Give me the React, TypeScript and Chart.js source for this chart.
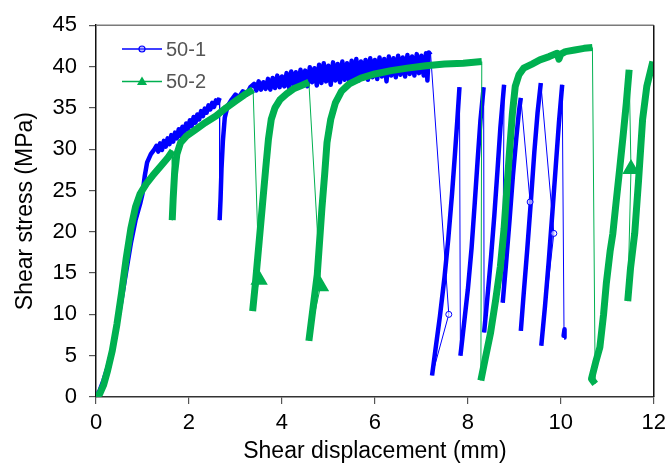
import React, { useEffect, useRef } from "react";
import { Chart, registerables } from "chart.js";

Chart.register(...registerables);

// ---- Data ----
const xTicks = [0, 2, 4, 6, 8, 10, 12];
const yTicks = [0, 5, 10, 15, 20, 25, 30, 35, 40, 45];

const seriesNames = ["50-1", "50-2"];

// 50-1 : shear displacement (mm)
const disp501 = [
  0.0, 0.08, 0.16, 0.25, 0.35, 0.45, 0.55, 0.65, 0.75, 0.85, 0.95, 1.0, 1.05, 1.1, 1.18, 1.26,
  1.3, 1.34, 1.38, 1.42, 1.46, 1.5, 1.54, 1.58, 1.62, 1.66, 1.7, 1.74, 1.78, 1.82, 1.86, 1.9,
  1.94, 1.98, 2.02, 2.06, 2.1, 2.14, 2.18, 2.22, 2.26, 2.3, 2.34, 2.38, 2.42, 2.46, 2.5, 2.54,
  2.58, 2.62, 2.66,
  2.66, 2.68, 2.7, 2.73, 2.77, 2.83, 2.92, 3.0, 3.08, 3.16, 3.24, 3.32,
  3.4, 3.45, 3.5, 3.55, 3.6, 3.65, 3.7, 3.75, 3.8, 3.85, 3.9, 3.95, 4.0, 4.05, 4.1, 4.15,
  4.2, 4.25, 4.3, 4.35, 4.4, 4.45, 4.5, 4.55, 4.6, 4.65, 4.7, 4.75, 4.8, 4.85, 4.9, 4.95,
  5.0, 5.05, 5.1, 5.15, 5.2, 5.25, 5.3, 5.35, 5.4, 5.45, 5.5, 5.55, 5.6, 5.65, 5.7, 5.75,
  5.8, 5.85, 5.9, 5.95, 6.0, 6.05, 6.1, 6.15, 6.2, 6.25, 6.3, 6.35, 6.4, 6.45, 6.5, 6.55,
  6.6, 6.65, 6.7, 6.75, 6.8, 6.85, 6.9, 6.95, 7.0, 7.05, 7.1, 7.13, 7.16, 7.2,
  7.59, 7.23,
  7.3, 7.4, 7.5, 7.58, 7.66, 7.72, 7.77, 7.82,
  7.84, 7.92, 8.0, 8.08, 8.15, 8.21, 8.27, 8.34,
  8.35, 8.42, 8.5, 8.57, 8.64, 8.7, 8.78,
  8.75, 8.82, 8.9, 8.97, 9.04, 9.1, 9.14,
  9.34, 9.14, 9.2, 9.28, 9.36, 9.43, 9.5, 9.57,
  9.85, 9.58, 9.66, 9.74, 9.82, 9.89, 9.96, 10.03,
  10.07, 10.08, 10.06, 10.08,
];
// 50-1 : shear stress (MPa)
const stress501 = [
  0.0, 0.8, 2.0, 3.6, 5.8, 8.6, 11.8, 15.2, 18.6, 21.4, 23.4, 24.6, 26.8, 28.4, 29.4, 30.0,
  30.4, 29.7, 30.7, 29.9, 31.0, 30.3, 31.3, 30.6, 31.7, 30.9, 32.0, 31.3, 32.4, 31.6, 32.7, 32.0,
  33.1, 32.4, 33.5, 32.8, 33.9, 33.2, 34.2, 33.6, 34.6, 34.0, 34.9, 34.4, 35.3, 34.8, 35.6, 35.1,
  35.9, 35.6, 36.2,
  21.4, 24.0, 27.6, 31.0, 33.8, 35.2, 36.0, 36.6, 36.3, 37.0, 36.6, 37.5,
  37.9, 37.1, 38.2, 37.2, 38.1, 37.3, 38.5, 37.2, 38.6, 37.4, 38.9, 37.5, 38.8, 37.6, 39.2, 37.5,
  39.4, 37.8, 39.3, 37.7, 39.6, 38.0, 39.5, 37.6, 39.9, 38.1, 39.8, 37.7, 40.2, 38.0, 40.4, 38.2,
  40.1, 37.8, 40.5, 38.3, 40.3, 38.1, 40.6, 38.4, 40.4, 38.2, 40.7, 38.5, 40.9, 38.3, 40.6, 38.6,
  40.8, 38.4, 41.0, 38.7, 40.8, 38.5, 41.1, 38.8, 40.9, 38.2, 41.2, 38.9, 41.0, 38.7, 41.3, 39.0,
  41.1, 38.8, 41.4, 39.1, 41.2, 38.9, 41.5, 39.2, 41.3, 38.9, 41.6, 38.3, 41.7, 41.4,
  10.0, 2.6,
  5.6, 9.8, 14.6, 19.2, 24.6, 29.2, 33.2, 37.5,
  5.0, 9.0, 13.0, 18.0, 23.6, 28.6, 33.4, 37.5,
  7.8, 12.0, 17.0, 22.0, 27.6, 32.6, 37.8,
  11.4, 16.0, 21.6, 26.8, 31.2, 34.6, 36.2,
  23.6, 8.0, 12.4, 18.0, 24.0, 29.6, 34.4, 38.0,
  19.8, 6.2, 11.0, 16.4, 22.4, 27.8, 33.2, 37.8,
  7.2, 8.2, 7.4, 8.0,
];

// 50-2 : shear displacement (mm)
const disp502 = [
  0.0, 0.08, 0.16, 0.25, 0.35, 0.45, 0.55, 0.65, 0.75, 0.85, 0.95, 1.08, 1.22, 1.4, 1.55, 1.65,
  1.64, 1.66, 1.69, 1.74, 1.82, 1.95, 2.15, 2.35, 2.58, 2.8, 3.0, 3.2, 3.38,
  3.51, 3.37, 3.43, 3.51, 3.58, 3.65, 3.71, 3.77, 3.85, 3.96, 4.1, 4.25, 4.42, 4.58,
  4.83, 4.58, 4.67, 4.76, 4.86, 4.92, 4.97, 5.05, 5.15, 5.28, 5.45, 5.7, 6.0, 6.35, 6.7, 7.1, 7.5, 7.9, 8.3,
  8.28, 8.38, 8.49, 8.6, 8.7, 8.78, 8.84, 8.9, 8.96, 9.02, 9.1, 9.2, 9.38, 9.55, 9.75, 9.92, 9.96, 10.0,
  10.1, 10.3, 10.5, 10.68,
  10.74, 10.66, 10.75, 10.84, 10.92, 10.98, 11.06, 11.12, 11.19, 11.27, 11.34, 11.41, 11.47,
  11.51, 11.44, 11.5, 11.59, 11.67, 11.76, 11.85, 11.98,
];
// 50-2 : shear stress (MPa)
const stress502 = [
  0.0, 0.4, 1.4, 3.2, 5.6, 8.8, 12.6, 16.8, 20.4, 23.0, 24.6, 25.8, 26.8, 28.0, 29.0, 29.8,
  21.4, 24.0, 27.0, 29.4, 30.8, 31.6, 32.4, 33.2, 34.0, 35.0, 35.8, 36.6, 37.2,
  14.2, 10.4, 13.8, 18.8, 23.2, 27.6, 31.2, 33.6, 35.0, 36.0, 36.7, 37.3, 37.7, 38.1,
  13.4, 6.8, 10.8, 14.8, 22.8, 27.0, 30.8, 33.6, 35.6, 37.0, 37.9, 38.6, 39.1, 39.5, 39.8, 40.1, 40.3, 40.4, 40.6,
  2.0, 4.8, 7.8, 11.8, 15.8, 20.4, 25.2, 30.0, 34.4, 37.6, 39.0, 39.8, 40.3, 40.8, 41.2, 41.6, 40.9, 41.5,
  41.8, 42.0, 42.2, 42.3,
  1.6, 2.2, 4.2, 6.0, 10.0, 13.8, 17.6, 19.8, 23.6, 27.8, 31.6, 35.6, 39.6,
  27.6, 11.6, 15.6, 19.8, 26.0, 33.6, 37.6, 40.6,
];

const BLUE = "#0000FF";
const GREEN = "#00B050";
const FONT = "'Liberation Sans', Arial, Helvetica, sans-serif";

function toPoints(xs: number[], ys: number[]) {
  return xs.map((x, i) => ({ x, y: ys[i] }));
}

// marker only on isolated points (a point lying between two drops)
function isolatedRadius(r: number) {
  return (ctx: any) => {
    const d = ctx.dataset.data as { x: number; y: number }[];
    const i = ctx.dataIndex;
    if (i <= 0 || i >= d.length - 1) return 0;
    const prev = d[i - 1].y;
    const cur = d[i].y;
    const next = d[i + 1].y;
    return prev > cur + 5 && next < cur - 3 ? r : 0;
  };
}

function segWidth(thick: number) {
  return (ctx: any) => (ctx.p1.parsed.y < ctx.p0.parsed.y - 3.5 ? 1 : thick);
}

const framePlugin = {
  id: "frame",
  afterDraw(chart: any) {
    const { ctx, chartArea } = chart;
    const { left, right, top, bottom } = chartArea;
    ctx.save();
    ctx.lineWidth = 1.5;
    ctx.strokeStyle = "#7a7a7a";
    ctx.beginPath();
    ctx.moveTo(left, top);
    ctx.lineTo(right, top);
    ctx.stroke();
    ctx.strokeStyle = "#111111";
    ctx.beginPath();
    ctx.moveTo(right, top);
    ctx.lineTo(right, bottom);
    ctx.stroke();

    // legend
    const ds = chart.data.datasets;
    ds.forEach((d: any, i: number) => {
      const y = 49 + i * 32.5;
      const x0 = 122;
      const x1 = 162;
      const xm = 142;
      ctx.strokeStyle = d.borderColor;
      ctx.lineWidth = 1.5;
      ctx.beginPath();
      ctx.moveTo(x0, y);
      ctx.lineTo(x1, y);
      ctx.stroke();
      if (d.pointStyle === "triangle") {
        ctx.fillStyle = d.borderColor;
        ctx.beginPath();
        ctx.moveTo(xm, y - 5);
        ctx.lineTo(xm + 5, y + 3.5);
        ctx.lineTo(xm - 5, y + 3.5);
        ctx.closePath();
        ctx.fill();
      } else {
        ctx.fillStyle = "rgba(120,120,255,0.5)";
        ctx.lineWidth = 1.2;
        ctx.beginPath();
        ctx.arc(xm, y, 3, 0, Math.PI * 2);
        ctx.fill();
        ctx.stroke();
      }
      ctx.fillStyle = "#555555";
      ctx.font = `20px ${FONT}`;
      ctx.textAlign = "left";
      ctx.textBaseline = "middle";
      ctx.fillText(d.label, 166, y + 1);
    });
    ctx.restore();
  },
};

export default function App() {
  const ref = useRef<HTMLCanvasElement | null>(null);

  useEffect(() => {
    document.body.style.margin = "0";
    if (!ref.current) return;
    const chart = new Chart(ref.current, {
      type: "line",
      data: {
        datasets: [
          {
            label: seriesNames[0],
            data: toPoints(disp501, stress501),
            borderColor: BLUE,
            backgroundColor: "rgba(255,255,255,0.6)",
            pointStyle: "circle",
            pointRadius: isolatedRadius(3),
            pointBorderColor: BLUE,
            pointBorderWidth: 1,
            borderWidth: 4,
            borderJoinStyle: "round",
            borderCapStyle: "butt",
            tension: 0,
            order: 1,
            segment: { borderWidth: segWidth(4.5) },
          },
          {
            label: seriesNames[1],
            data: toPoints(disp502, stress502),
            borderColor: GREEN,
            backgroundColor: GREEN,
            pointStyle: "triangle",
            pointRadius: isolatedRadius(4),
            pointBorderColor: GREEN,
            pointBackgroundColor: GREEN,
            borderWidth: 6,
            borderJoinStyle: "round",
            borderCapStyle: "butt",
            tension: 0,
            order: 0,
            segment: { borderWidth: segWidth(7) },
          },
        ],
      },
      options: {
        animation: false,
        responsive: true,
        maintainAspectRatio: false,
        layout: { padding: { left: 0, top: 22, right: 15, bottom: 0 } },
        plugins: {
          legend: { display: false },
          tooltip: { enabled: false },
        },
        scales: {
          x: {
            type: "linear",
            min: xTicks[0],
            max: xTicks[xTicks.length - 1],
            afterFit: (s: any) => {
              s.height = 66;
            },
            afterBuildTicks: (s: any) => {
              s.ticks = xTicks.map((v) => ({ value: v }));
            },
            ticks: {
              color: "#000",
              font: { family: FONT, size: 22 },
              padding: 6,
              maxRotation: 0,
            },
            grid: {
              drawOnChartArea: false,
              drawTicks: true,
              tickLength: 7,
              color: "#555",
              lineWidth: 1.2,
            },
            border: { display: true, color: "#333", width: 1.5 },
            title: {
              display: true,
              text: "Shear displacement (mm)",
              color: "#000",
              font: { family: FONT, size: 23, lineHeight: 1 },
              padding: { top: 0, bottom: 0 },
            },
          },
          y: {
            type: "linear",
            min: yTicks[0],
            max: yTicks[yTicks.length - 1],
            afterFit: (s: any) => {
              s.width = 96;
            },
            afterBuildTicks: (s: any) => {
              s.ticks = yTicks.map((v) => ({ value: v }));
            },
            ticks: {
              color: "#000",
              font: { family: FONT, size: 22 },
              padding: 12,
            },
            grid: {
              drawOnChartArea: false,
              drawTicks: true,
              tickLength: 7,
              color: "#555",
              lineWidth: 1.2,
            },
            border: { display: true, color: "#111", width: 1.5 },
            title: {
              display: true,
              text: "Shear stress (MPa)",
              color: "#000",
              font: { family: FONT, size: 23, lineHeight: 1 },
              padding: { top: 14, bottom: 0 },
            },
          },
        },
      },
      plugins: [framePlugin],
    });
    return () => chart.destroy();
  }, []);

  return (
    <div style={{ position: "absolute", left: 0, top: 0, width: 672, height: 463 }}>
      <canvas ref={ref} />
    </div>
  );
}
